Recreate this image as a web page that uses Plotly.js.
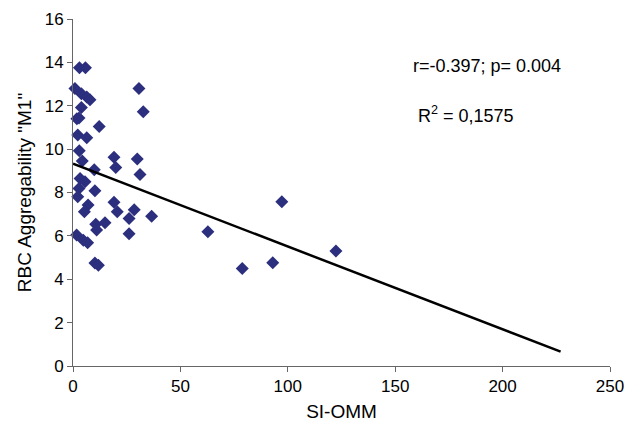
<!DOCTYPE html>
<html>
<head>
<meta charset="utf-8">
<script src="https://cdn.plot.ly/plotly-3.0.1.min.js"></script>
<style>html,body{margin:0;padding:0;background:#fff;}#chart{width:626px;height:432px;}</style>
</head>
<body>
<div id="chart"></div>
<script>
// SI-OMM values
const siOmm = [0.9, 3.0, 5.8, 3.9, 6.4, 7.9, 3.9, 1.8, 2.8, 12.2, 2.2, 6.4, 2.9, 4.3, 9.9, 3.3, 5.6, 2.8, 10.2, 2.2, 7.0, 5.3, 10.6, 14.9, 11.0, 1.7, 4.8, 6.8, 10.2, 11.8, 30.7, 32.7, 19.1, 19.9, 29.9, 31.2, 19.1, 20.6, 28.5, 26.1, 36.6, 26.1, 62.8, 78.8, 93.0, 97.2, 122.4];
// RBC Aggregability "M1"
const m1 = [12.8, 13.75, 13.75, 12.55, 12.4, 12.28, 11.92, 11.4, 11.43, 11.04, 10.65, 10.52, 9.92, 9.45, 9.05, 8.65, 8.49, 8.19, 8.08, 7.8, 7.42, 7.11, 6.54, 6.6, 6.27, 6.04, 5.8, 5.68, 4.75, 4.65, 12.8, 11.72, 9.62, 9.15, 9.55, 8.83, 7.55, 7.11, 7.2, 6.8, 6.91, 6.1, 6.19, 4.5, 4.76, 7.57, 5.3];
// linear trend line endpoints
const trendX = [0, 227];
const trendY = [9.33, 0.66];
const xTicks = [0, 50, 100, 150, 200, 250];
const yTicks = [0, 2, 4, 6, 8, 10, 12, 14, 16];
const statText = "r=-0.397; p= 0.004";
const r2Text = "R<sup>2</sup> = 0,1575";

const font = "Liberation Sans, Arial, sans-serif";
const data = [
  {x: siOmm, y: m1, type: 'scatter', mode: 'markers',
   marker: {symbol: 'diamond', size: 10, color: '#2B2F7E'}, showlegend: false, cliponaxis: false},
  {x: trendX, y: trendY, type: 'scatter', mode: 'lines',
   line: {color: '#000', width: 2.5}, showlegend: false}
];
const axisCommon = {showgrid: false, zeroline: false, showline: true, linecolor: '#666', linewidth: 1,
  ticks: 'outside', ticklen: 5, tickcolor: '#666', tickfont: {family: font, size: 17, color: '#000'}};
const layout = {
  width: 626, height: 432,
  margin: {l: 73, r: 16, t: 19, b: 66},
  paper_bgcolor: '#fff', plot_bgcolor: '#fff',
  font: {family: font, color: '#000'},
  xaxis: Object.assign({}, axisCommon, {range: [0, 250], tickvals: xTicks,
    title: {text: 'SI-OMM', font: {family: font, size: 19}, standoff: 9}}),
  yaxis: Object.assign({}, axisCommon, {range: [0, 16], tickvals: yTicks,
    title: {text: 'RBC Aggregability "M1"', font: {family: font, size: 19}, standoff: 8}}),
  annotations: [
    {x: 192.7, y: 13.82, xref: 'x', yref: 'y', text: statText, showarrow: false,
     font: {family: font, size: 18}, xanchor: 'center', yanchor: 'middle'},
    {x: 159.5, y: 11.6, xref: 'x', yref: 'y', text: r2Text, showarrow: false,
     font: {family: font, size: 18}, xanchor: 'left', yanchor: 'middle'}
  ]
};
Plotly.newPlot('chart', data, layout, {staticPlot: true, displayModeBar: false});
</script>
</body>
</html>
